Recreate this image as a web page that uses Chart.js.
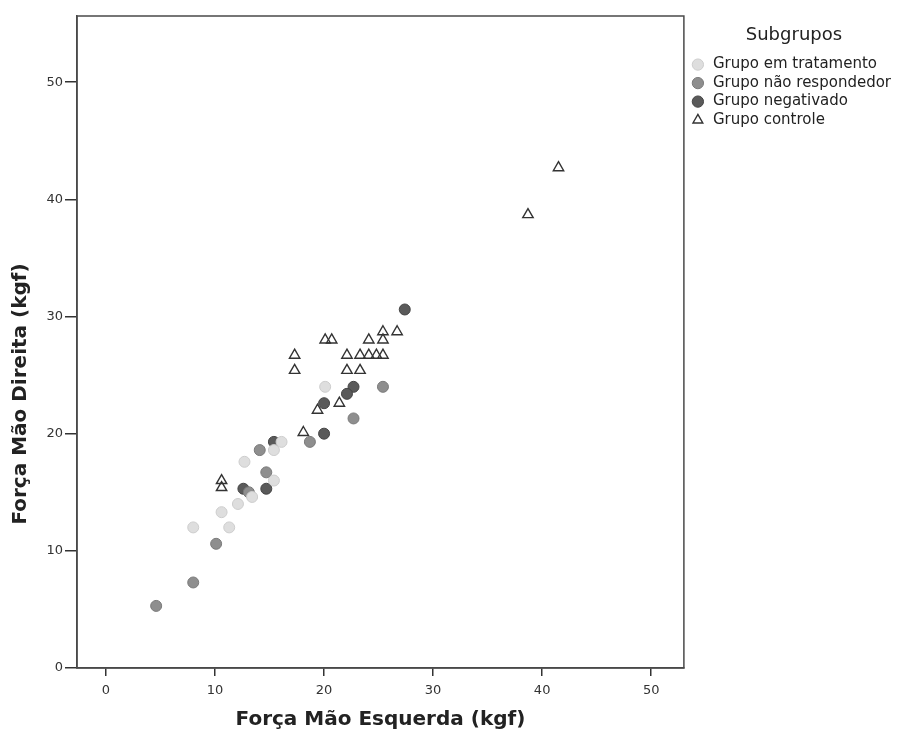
<!DOCTYPE html>
<html lang="pt">
<head>
  <meta charset="UTF-8" />
  <title>Força de preensão por subgrupo</title>
  <script src="https://cdn.jsdelivr.net/npm/chart.js"></script>
  <style>
    html, body {
      margin: 0;
      padding: 0;
      background: #fff;
    }
    #wrap {
      width: 901px;
      height: 736px;
    }
  </style>
</head>
<body>
  <div id="wrap"><canvas id="forcaChart" width="901" height="736"></canvas></div>

  <script>
    // valores lidos por subgrupo (kgf)
    const tratamentoX = [20.1, 16.1, 15.4, 12.7, 15.4, 13.4, 12.1, 10.6, 8.0, 11.3];
    const tratamentoY = [24.0, 19.3, 18.6, 17.6, 16.0, 14.6, 14.0, 13.3, 12.0, 12.0];

    const naoRespX = [25.4, 22.7, 18.7, 14.1, 14.7, 13.1, 10.1, 8.0, 4.6];
    const naoRespY = [24.0, 21.3, 19.3, 18.6, 16.7, 15.0, 10.6, 7.3, 5.3];

    const negativadoX = [27.4, 22.7, 22.1, 20.0, 20.0, 15.4, 12.6, 14.7];
    const negativadoY = [30.6, 24.0, 23.4, 22.6, 20.0, 19.3, 15.3, 15.3];

    const controleX = [41.5, 38.7, 20.1, 20.7, 24.1, 25.4, 25.4, 26.7, 17.3, 22.1, 23.3,
                       24.1, 24.8, 25.4, 17.3, 22.1, 23.3, 21.4, 19.4, 18.1, 10.6, 10.6];
    const controleY = [42.7, 38.7, 28.0, 28.0, 28.0, 28.7, 28.0, 28.7, 26.7, 26.7, 26.7,
                       26.7, 26.7, 26.7, 25.4, 25.4, 25.4, 22.6, 22.0, 20.1, 16.0, 15.4];

    const grupos = ['Grupo em tratamento', 'Grupo não respondedor', 'Grupo negativado', 'Grupo controle'];
    const xTicks = [0, 10, 20, 30, 40, 50];
    const yTicks = [0, 10, 20, 30, 40, 50];
    const tituloX = 'Força Mão Esquerda (kgf)';
    const tituloY = 'Força Mão Direita (kgf)';

    function pontos(xs, ys) {
      return xs.map((x, i) => ({ x: x, y: ys[i] }));
    }

    const fonte = '"DejaVu Sans", sans-serif';

    // moldura completa, legenda um pouco afastada e título vertical
    const extras = {
      id: 'extras',
      afterLayout(chart) {
        chart.legend.left += 3;
      },
      afterDatasetsDraw(chart) {
        const a = chart.chartArea;
        const ctx = chart.ctx;
        ctx.save();
        ctx.strokeStyle = '#4a4a4a';
        ctx.lineWidth = 1.5;
        ctx.strokeRect(a.left, a.top, a.right - a.left, a.bottom - a.top);
        ctx.restore();
      },
      afterDraw(chart) {
        const ctx = chart.ctx;
        ctx.save();
        ctx.translate(21, 394);
        ctx.rotate(-Math.PI / 2);
        ctx.font = 'bold 20px ' + fonte;
        ctx.fillStyle = '#222';
        ctx.textAlign = 'center';
        ctx.textBaseline = 'middle';
        ctx.fillText(tituloY, 0, 0);
        ctx.restore();
      }
    };

    const tickFont = { family: fonte, size: 13 };

    const ctx = document.getElementById('forcaChart').getContext('2d');
    new Chart(ctx, {
      type: 'scatter',
      data: {
        datasets: [
          {
            label: grupos[0],
            data: pontos(tratamentoX, tratamentoY),
            backgroundColor: '#dedede',
            borderColor: '#cdcdcd',
            borderWidth: 1,
            pointRadius: 5.5,
            pointStyle: 'circle'
          },
          {
            label: grupos[1],
            data: pontos(naoRespX, naoRespY),
            backgroundColor: '#8e8e8e',
            borderColor: '#7a7a7a',
            borderWidth: 1,
            pointRadius: 5.5,
            pointStyle: 'circle'
          },
          {
            label: grupos[2],
            data: pontos(negativadoX, negativadoY),
            backgroundColor: '#5a5a5a',
            borderColor: '#444',
            borderWidth: 1,
            pointRadius: 5.5,
            pointStyle: 'circle'
          },
          {
            label: grupos[3],
            data: pontos(controleX, controleY),
            backgroundColor: 'rgba(255,255,255,0)',
            borderColor: '#333',
            borderWidth: 1.4,
            pointRadius: 6,
            pointStyle: 'triangle'
          }
        ]
      },
      options: {
        responsive: false,
        animation: false,
        layout: { padding: { top: 16, right: 3, bottom: 0, left: 0 } },
        plugins: {
          tooltip: { enabled: false },
          legend: {
            position: 'right',
            align: 'start',
            title: {
              display: true,
              text: 'Subgrupos',
              color: '#222',
              font: { family: fonte, size: 18 },
              padding: { top: 10, bottom: 6 }
            },
            labels: {
              usePointStyle: true,
              boxHeight: 8,
              padding: 3.5,
              color: '#222',
              font: { family: fonte, size: 15 }
            }
          }
        },
        scales: {
          x: {
            type: 'linear',
            position: 'bottom',
            min: -2.66,
            max: 53.0,
            afterBuildTicks(scale) {
              scale.ticks = xTicks.map(v => ({ value: v }));
            },
            afterFit(scale) {
              scale.height = 68;
            },
            grid: { drawOnChartArea: false, drawTicks: true, tickLength: 8, color: '#333', lineWidth: 1.5 },
            border: { display: true, color: '#4a4a4a', width: 1.5 },
            ticks: { color: '#333', font: tickFont, padding: 7 },
            title: {
              display: true,
              text: tituloX,
              color: '#222',
              font: { family: fonte, size: 20, weight: 'bold' },
              padding: { top: 0, bottom: 4 }
            }
          },
          y: {
            type: 'linear',
            min: 0,
            max: 55.65,
            afterBuildTicks(scale) {
              scale.ticks = yTicks.map(v => ({ value: v }));
            },
            afterFit(scale) {
              scale.width = 77;
            },
            grid: { drawOnChartArea: false, drawTicks: true, tickLength: 12, color: '#333', lineWidth: 1.5 },
            border: { display: true, color: '#4a4a4a', width: 1.5 },
            ticks: { color: '#333', font: tickFont, padding: 2 },
            title: { display: false }
          }
        }
      },
      plugins: [extras]
    });
  </script>
</body>
</html>
